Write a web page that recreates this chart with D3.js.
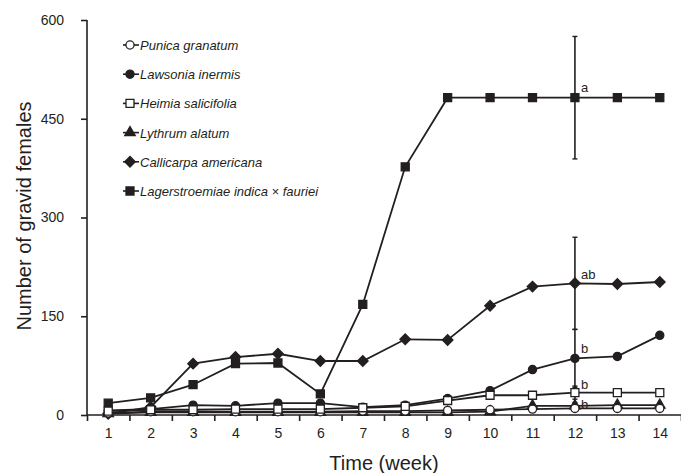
<!DOCTYPE html>
<html>
<head>
    <meta charset="utf-8">
    <style>
        body {
            margin: 0;
            background: #fff;
            font-family: 'Liberation Sans', Arial, sans-serif;
        }

        .axis .domain,
        .axis .tick line {
            stroke: #231f20;
            stroke-width: 1.6px;
        }

        .axis .tick text {
            font-size: 14px;
            fill: #231f20;
        }

        .axis-title {
            font-size: 20px;
            fill: #231f20;
        }

        .legend text {
            font-size: 13px;
            font-style: italic;
            fill: #231f20;
        }

        .sig {
            font-size: 13px;
            fill: #231f20;
        }
    </style>
</head>
<body>
    <svg width="681" height="473"></svg>

<script src="https://d3js.org/d3.v7.min.js"></script>
<script>
    // weeks on the x axis
    let weeks = [1, 2, 3, 4, 5, 6, 7, 8, 9, 10, 11, 12, 13, 14]
    let yTicks = [0, 150, 300, 450, 600]

    // series values
    let punica = [3, 5, 5, 5, 5, 5, 6, 6, 7, 8, 9, 10, 10, 10]
    let lawsonia = [7, 9, 15, 14, 18, 18, 12, 15, 25, 37, 69, 86, 89, 121]
    let heimia = [6, 8, 8, 9, 9, 9, 11, 13, 22, 30, 30, 34, 34, 34]
    let lythrum = [2, 4, 4, 4, 4, 4, 4, 4, 4, 5, 14, 14, 15, 15]
    let callicarpa = [2, 12, 78, 88, 93, 82, 82, 115, 114, 166, 195, 200, 199, 202]
    let lagerstroemia = [18, 26, 46, 78, 79, 32, 168, 377, 482, 482, 482, 482, 482, 482]

    // error bars (+/-) at week 12 and significance letters
    let errWeek = 12
    let errors = { punica: 4, lawsonia: 44, heimia: 10, lythrum: 5, callicarpa: 70, lagerstroemia: 93 }

    let series = [
        { key: "lagerstroemia", name: "Lagerstroemiae indica × fauriei", values: lagerstroemia, shape: "square", fill: "#231f20", letter: "a" },
        { key: "callicarpa", name: "Callicarpa americana", values: callicarpa, shape: "diamond", fill: "#231f20", letter: "ab" },
        { key: "lythrum", name: "Lythrum alatum", values: lythrum, shape: "triangle", fill: "#231f20", letter: "" },
        { key: "lawsonia", name: "Lawsonia inermis", values: lawsonia, shape: "circle", fill: "#231f20", letter: "b" },
        { key: "punica", name: "Punica granatum", values: punica, shape: "circle", fill: "#fff", letter: "b" },
        { key: "heimia", name: "Heimia salicifolia", values: heimia, shape: "square", fill: "#fff", letter: "b" }
    ]
    let legendOrder = ["punica", "lawsonia", "heimia", "lythrum", "callicarpa", "lagerstroemia"]

    let svg = d3.select("svg")
    let ink = "#231f20"

    let x = d3.scaleLinear()
        .domain([0.5, 14.5])
        .range([87, 681])

    let y = d3.scaleLinear()
        .domain([0, 600])
        .range([415, 20])

    // axes
    svg.append("g")
        .attr("class", "x axis")
        .attr("transform", "translate(0,415)")
        .call(d3.axisBottom(x)
            .tickValues(d3.range(0.5, 15, 1))
            .tickSize(6)
            .tickFormat(""))
        .call(g => g.select(".domain").attr("d", "M87,0H681"))

    svg.append("g")
        .attr("class", "x axis")
        .attr("transform", "translate(0,415)")
        .call(d3.axisBottom(x)
            .tickValues(weeks)
            .tickSize(0)
            .tickPadding(13)
            .tickFormat(d3.format("d")))
        .call(g => g.select(".domain").remove())

    svg.append("g")
        .attr("class", "y axis")
        .attr("transform", "translate(87,0)")
        .call(d3.axisLeft(y)
            .tickValues(yTicks)
            .tickSize(6)
            .tickPadding(17)
            .tickFormat(d3.format("d")))
        .call(g => g.select(".domain").attr("d", "M0,415V20"))

    svg.append("text")
        .attr("class", "axis-title")
        .attr("text-anchor", "middle")
        .attr("x", 384)
        .attr("y", 470)
        .text("Time (week)")

    svg.append("text")
        .attr("class", "axis-title")
        .attr("text-anchor", "middle")
        .attr("transform", "translate(31,216) rotate(-90)")
        .text("Number of gravid females")

    let symbolFor = {
        square: d3.symbol().type(d3.symbolSquare).size(64),
        diamond: d3.symbol().type(d3.symbolSquare).size(56),
        triangle: d3.symbol().type(d3.symbolTriangle).size(48),
        circle: d3.symbol().type(d3.symbolCircle).size(52)
    }
    let rotateFor = { square: 0, diamond: 45, triangle: 0, circle: 0 }

    let line = d3.line()
        .x((d, i) => x(weeks[i]))
        .y(d => y(d))

    // error bars
    let eb = svg.append("g")
    series.forEach(s => {
        let v = s.values[weeks.indexOf(errWeek)]
        let e = errors[s.key]
        let cx = x(errWeek)
        eb.append("line")
            .attr("x1", cx).attr("x2", cx)
            .attr("y1", y(v - e)).attr("y2", y(v + e))
            .attr("stroke", ink).attr("stroke-width", 1.6)
        ;[v - e, v + e].forEach(t => {
            eb.append("line")
                .attr("x1", cx - 2.5).attr("x2", cx + 2.5)
                .attr("y1", y(t)).attr("y2", y(t))
                .attr("stroke", ink).attr("stroke-width", 1.4)
        })
    })

    // lines and markers
    let groups = svg.selectAll(".series")
        .data(series)
        .join("g")
        .attr("class", "series")

    groups.append("path")
        .attr("d", d => line(d.values))
        .attr("fill", "none")
        .attr("stroke", ink)
        .attr("stroke-width", 1.8)

    groups.each(function (s) {
        d3.select(this).selectAll("path.pt")
            .data(s.values)
            .join("path")
            .attr("class", "pt")
            .attr("transform", (d, i) => `translate(${x(weeks[i])},${y(d)}) rotate(${rotateFor[s.shape]})`)
            .attr("d", symbolFor[s.shape])
            .attr("fill", s.fill)
            .attr("stroke", ink)
            .attr("stroke-width", 1.3)
    })

    // significance letters
    let letterOffset = { lagerstroemia: -6, callicarpa: -4, lawsonia: -5, heimia: -4, punica: 1 }
    series.filter(s => s.letter).forEach(s => {
        let v = s.values[weeks.indexOf(errWeek)]
        svg.append("text")
            .attr("class", "sig")
            .attr("x", x(errWeek) + 6)
            .attr("y", y(v) + letterOffset[s.key])
            .text(s.letter)
    })

    // legend
    let legend = svg.append("g")
        .attr("class", "legend")

    legendOrder.forEach((k, i) => {
        let s = series.find(d => d.key === k)
        let ly = 45 + i * 29.2
        let row = legend.append("g")
        row.append("line")
            .attr("x1", 123).attr("x2", 139)
            .attr("y1", ly).attr("y2", ly)
            .attr("stroke", ink).attr("stroke-width", 1.6)
        row.append("path")
            .attr("transform", `translate(130,${ly}) rotate(${rotateFor[s.shape]})`)
            .attr("d", symbolFor[s.shape])
            .attr("fill", s.fill)
            .attr("stroke", ink)
            .attr("stroke-width", 1.3)
        row.append("text")
            .attr("x", 140)
            .attr("y", ly + 5)
            .text(s.name)
    })
</script>
</body>
</html>
